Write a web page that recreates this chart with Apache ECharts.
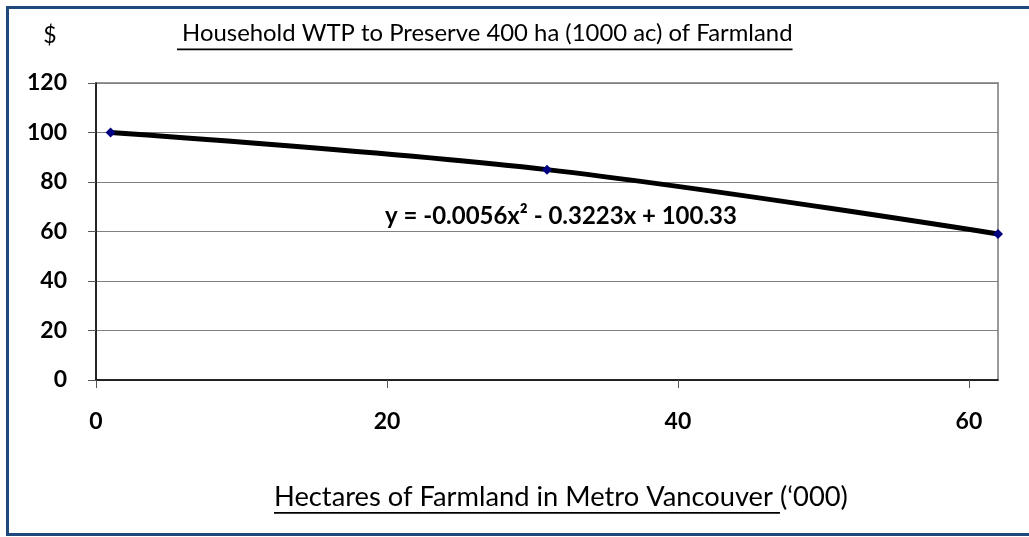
<!DOCTYPE html>
<html>
<head>
<meta charset="utf-8">
<script src="https://cdn.jsdelivr.net/npm/echarts@6/dist/echarts.min.js"></script>
<style>
html,body{margin:0;padding:0;background:#fff;}
#c{width:1029px;height:537px;}
</style>
</head>
<body>
<div id="c"></div>
<script>
// Data
var xValues = [1, 31, 62];
var yValues = [100, 85, 59];
var yTicks = [0, 20, 40, 60, 80, 100, 120];
var xTicks = [0, 20, 40, 60];
var titleText = " Household WTP to Preserve 400 ha (1000 ac) of Farmland";
var xNameUnderlined = "Hectares of Farmland in Metro Vancouver ";
var xNameRest = "(\u2018000)";
var yName = "$";
var equationText = "y = -0.0056x\u00B2 - 0.3223x + 100.33";

var FONT = "Lato, 'Open Sans', sans-serif";

function measure(text, size, weight) {
  var cv = document.createElement('canvas').getContext('2d');
  cv.font = (weight || 'normal') + ' ' + size + 'px ' + FONT;
  return cv.measureText(text).width;
}
function fit(text, target, weight) {
  return 20 * target / measure(text, 20, weight);
}

var chart = echarts.init(document.getElementById('c'), null, {renderer: 'canvas'});

var titleSize = fit(titleText, 617);
var titleW = measure(titleText, titleSize);
var titleLeft = 176;

var xnSize = fit(xNameUnderlined + xNameRest, 574);
var xnW1 = measure(xNameUnderlined, xnSize);
var xnLeft = 274;

var eqSize = fit(equationText, 352, 'bold');
var labelSize = 23;

var seriesData = xValues.map(function (x, i) { return [x, yValues[i]]; });

chart.setOption({
  animation: false,
  grid: {
    left: 96, right: 31, top: 83, bottom: 157,
    show: true, borderColor: '#999999', borderWidth: 2, backgroundColor: '#fff'
  },
  xAxis: {
    type: 'value', min: 0, max: 62, interval: 20,
    axisLine: {show: true, lineStyle: {color: '#000', width: 1.5}},
    axisTick: {show: true, length: 8, lineStyle: {color: '#555'},
      customValues: xTicks},
    axisLabel: {
      customValues: xTicks,
      color: '#000', fontWeight: 'bold', fontSize: labelSize, fontFamily: FONT, margin: 30
    },
    splitLine: {show: false}
  },
  yAxis: {
    type: 'value', min: 0, max: 120, interval: 20,
    axisLine: {show: true, lineStyle: {color: '#000', width: 1.5}},
    axisTick: {show: true, length: 8, lineStyle: {color: '#555'}},
    axisLabel: {color: '#000', fontWeight: 'bold', fontSize: labelSize, fontFamily: FONT, margin: 29,
      formatter: function (v) { return yTicks.indexOf(v) >= 0 ? String(v) : ''; }},
    splitLine: {show: true, lineStyle: {color: '#808080', width: 1}}
  },
  series: [{
    type: 'line',
    data: seriesData,
    smooth: 0.35,
    symbol: 'diamond',
    symbolSize: 10,
    itemStyle: {color: '#000080'},
    lineStyle: {color: '#000', width: 5},
    z: 3
  }],
  graphic: [
    {type: 'rect', shape: {x: 7.5, y: 7.5, width: 1040, height: 527},
      style: {fill: null, stroke: '#1F497D', lineWidth: 3}, z: 100},
    {type: 'text', x: 50, y: 36, style: {text: yName, font: '23px ' + FONT, fill: '#000',
      textAlign: 'center', textVerticalAlign: 'middle'}},
    {type: 'text', x: titleLeft, y: 33, style: {text: titleText, font: titleSize + 'px ' + FONT,
      fill: '#000', textAlign: 'left', textVerticalAlign: 'middle'}},
    {type: 'rect', shape: {x: titleLeft + 1, y: 48.5, width: titleW - 1, height: 1.8}, style: {fill: '#000'}},
    {type: 'text', x: xnLeft, y: 497, style: {text: xNameUnderlined, font: xnSize + 'px ' + FONT,
      fill: '#000', textAlign: 'left', textVerticalAlign: 'middle'}},
    {type: 'rect', shape: {x: xnLeft, y: 512, width: xnW1, height: 1.8}, style: {fill: '#000'}},
    {type: 'text', x: xnLeft + xnW1, y: 497, style: {text: xNameRest, font: xnSize + 'px ' + FONT,
      fill: '#000', textAlign: 'left', textVerticalAlign: 'middle'}},
    {type: 'text', x: 385, y: 216, style: {text: equationText, font: 'bold ' + eqSize + 'px ' + FONT,
      fill: '#000', textAlign: 'left', textVerticalAlign: 'middle'}, z: 10}
  ]
});
</script>
</body>
</html>
